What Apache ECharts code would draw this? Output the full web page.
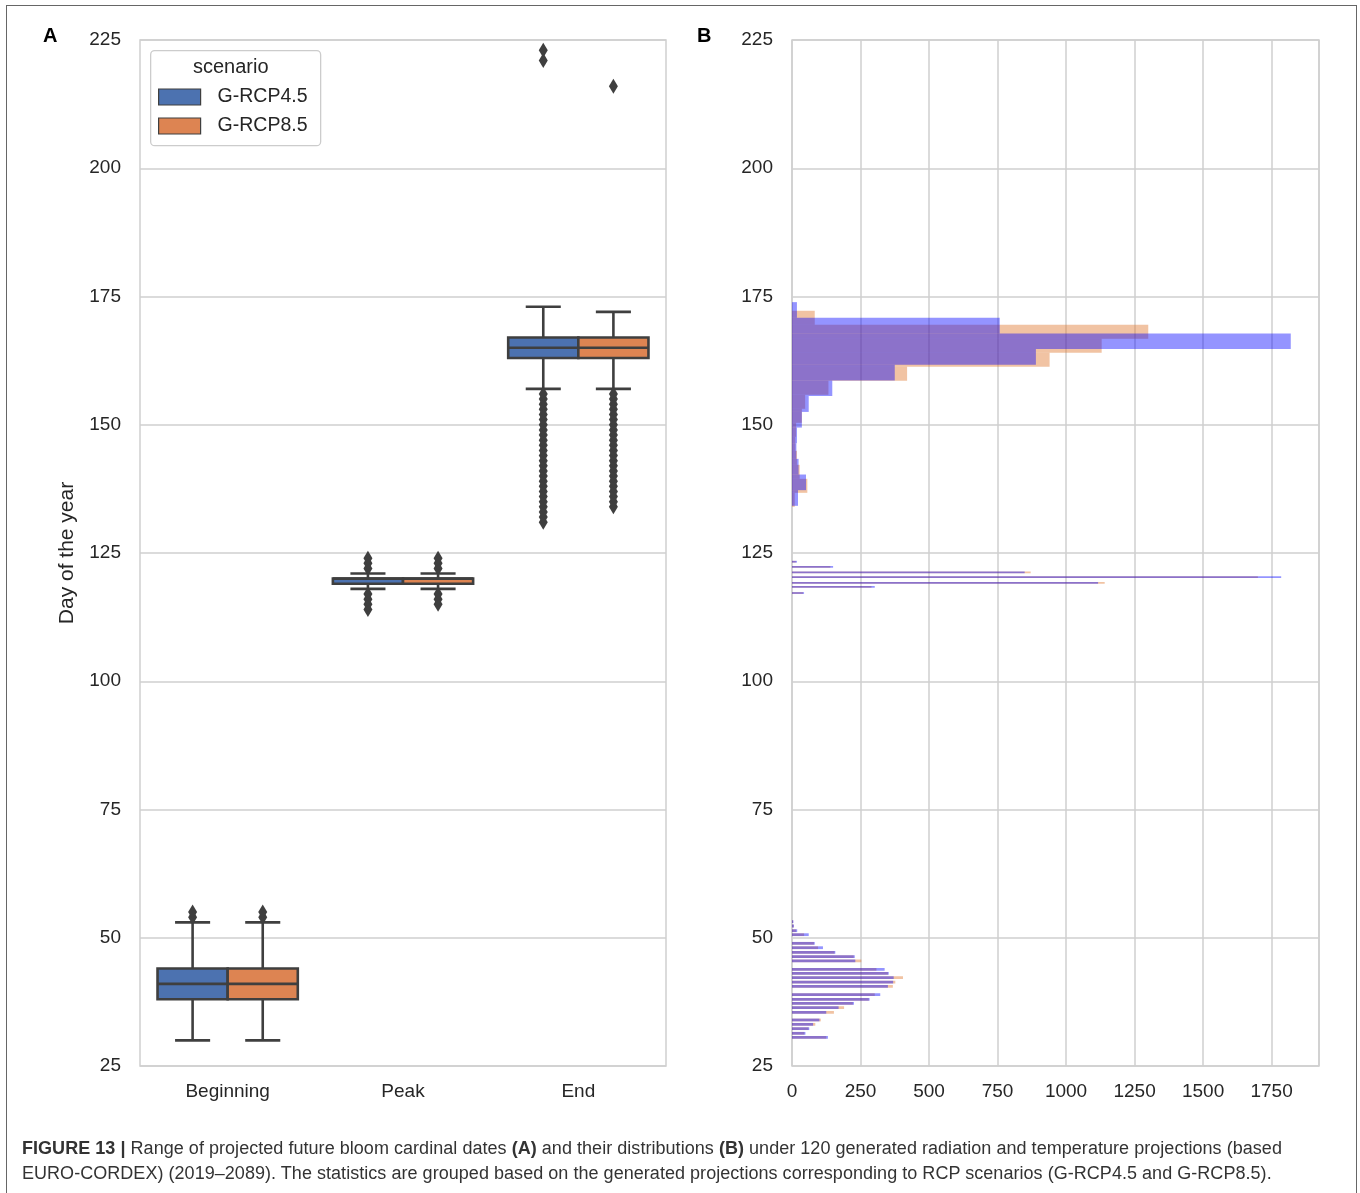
<!DOCTYPE html>
<html>
<head>
<meta charset="utf-8">
<script src="https://cdn.jsdelivr.net/npm/echarts@6/dist/echarts.min.js"></script>
<style>
  body { margin: 0; background: #fff; }
  #wrap { position: relative; width: 1360px; height: 1193px; overflow: hidden; }
  #frame { position: absolute; left: 6px; top: 5px; width: 1349px; height: 1300px; border: 1.5px solid #666; }
  #chart { position: absolute; left: 0; top: 0; width: 1360px; height: 1193px; }
  #caption { position: absolute; left: 22px; top: 1136px; font-family: "Liberation Sans", Arial, sans-serif;
             font-size: 18px; line-height: 25px; color: #333; white-space: nowrap; letter-spacing: 0.04px; }
</style>
</head>
<body>
<div id="wrap">
  <div id="frame"></div>
  <div id="chart"></div>
  <div id="caption"><b>FIGURE 13 |</b> Range of projected future bloom cardinal dates <b>(A)</b> and their distributions <b>(B)</b> under 120 generated radiation and temperature projections (based<br>EURO-CORDEX) (2019–2089). The statistics are grouped based on the generated projections corresponding to RCP scenarios (G-RCP4.5 and G-RCP8.5).</div>
</div>
<script>
// panel A: box statistics [low whisker, q1, median, q3, high whisker]
var stages = ['Beginning', 'Peak', 'End'];
var box45 = [[30, 38, 41, 44, 53], [118, 119, 120, 120, 121], [157, 163, 165, 167, 173]];
var box85 = [[30, 38, 41, 44, 53], [118, 119, 120, 120, 121], [157, 163, 165, 167, 172]];
var out45 = [
  [54, 55],
  [114, 115, 116, 117, 122, 123, 124],
  [131, 132, 133, 134, 135, 136, 137, 138, 139, 140, 141, 142, 143, 144, 145, 146, 147, 148, 149, 150, 151, 152, 153, 154, 155, 156, 221, 223]
];
var out85 = [
  [54, 55],
  [115, 116, 117, 122, 123, 124],
  [134, 135, 136, 137, 138, 139, 140, 141, 142, 143, 144, 145, 146, 147, 148, 149, 150, 151, 152, 153, 154, 155, 156, 216]
];

// panel B: histogram bins [low edge, high edge]
var beginEdges = [
  [52.86, 53.40], [52.02, 52.56], [51.11, 51.65], [50.33, 50.87], [48.64, 49.18], [47.79, 48.33],
  [46.89, 47.43], [46.04, 46.58], [45.20, 45.74], [43.57, 44.11], [42.79, 43.33], [41.95, 42.49],
  [41.10, 41.64], [40.26, 40.80], [38.63, 39.17], [37.73, 38.27], [36.95, 37.49], [36.10, 36.64],
  [35.19, 35.73], [33.70, 34.24], [32.85, 33.39], [32.01, 32.55], [31.10, 31.64], [30.32, 30.86]
];
var begin45 = [5, 7, 19, 61, 83, 113, 158, 229, 231, 338, 353, 371, 369, 350, 322, 283, 226, 170, 125, 100, 77, 63, 49, 131];
var begin85 = [4, 6, 15, 44, 80, 95, 155, 225, 253, 308, 350, 405, 377, 368, 302, 280, 222, 190, 153, 105, 85, 60, 45, 125];

var peakEdges = [[123.13, 123.47], [122.13, 122.47], [121.03, 121.37], [120.13, 120.47], [119.03, 119.37], [118.23, 118.57], [117.03, 117.37]];
var peak45 = [18, 150, 849, 1785, 1117, 302, 44];
var peak85 = [14, 140, 871, 1700, 1141, 290, 40];

var end45Edges = [
  [134.2, 137.25], [137.25, 140.3], [140.3, 143.35], [143.35, 146.4], [146.4, 149.45], [149.45, 152.5],
  [152.5, 155.6], [155.6, 158.65], [158.65, 161.7], [161.7, 164.75], [164.75, 167.8], [167.8, 170.85], [170.85, 173.9]
];
var end45 = [22, 51, 24, 16, 18, 36, 61, 147, 375, 890, 1820, 758, 18];
var end85Edges = [
  [134.0, 136.73], [136.73, 139.46], [139.46, 142.19], [142.19, 144.92], [144.92, 147.65], [147.65, 150.38], [150.38, 153.11],
  [153.11, 155.84], [155.84, 158.57], [158.57, 161.3], [161.3, 164.03], [164.03, 166.76], [166.76, 169.49], [169.49, 172.22]
];
var end85 = [10, 56, 28, 18, 12, 15, 36, 48, 133, 420, 940, 1130, 1300, 83];

var dayTicks = [25, 50, 75, 100, 125, 150, 175, 200, 225];
var countTicks = [0, 250, 500, 750, 1000, 1250, 1500, 1750];

var BLUE = '#4c72b0', ORANGE = '#dd8452', EDGE = '#3f3f3f';
var TXT = '#262626', SPINE = '#cfcfcf';

function boxData(stats) {
  return stats.map(function (s, i) { return [i].concat(s); });
}
function outData(lists, dodge) {
  var res = [];
  lists.forEach(function (vals, i) {
    vals.forEach(function (v) { res.push([i + dodge, v]); });
  });
  return res;
}
function histData(edgeLists, countLists) {
  var res = [];
  edgeLists.forEach(function (edges, k) {
    edges.forEach(function (e, i) { res.push([e[0], e[1], countLists[k][i]]); });
  });
  return res;
}

function boxRender(dodge, color) {
  return function (params, api) {
    var c = api.value(0) + dodge;
    var w = api.size([0.4, 0])[0];
    var half = w / 2, capHalf = w / 4;
    var x = api.coord([c, api.value(3)])[0];
    var ylo = api.coord([c, api.value(1)])[1];
    var yq1 = api.coord([c, api.value(2)])[1];
    var ymed = api.coord([c, api.value(3)])[1];
    var yq3 = api.coord([c, api.value(4)])[1];
    var yhi = api.coord([c, api.value(5)])[1];
    var ln = { stroke: EDGE, lineWidth: 2.6 };
    return {
      type: 'group',
      children: [
        { type: 'line', shape: { x1: x, y1: yq3, x2: x, y2: yhi }, style: ln },
        { type: 'line', shape: { x1: x, y1: yq1, x2: x, y2: ylo }, style: ln },
        { type: 'line', shape: { x1: x - capHalf, y1: yhi, x2: x + capHalf, y2: yhi }, style: ln },
        { type: 'line', shape: { x1: x - capHalf, y1: ylo, x2: x + capHalf, y2: ylo }, style: ln },
        { type: 'rect', shape: { x: x - half, y: yq3, width: w, height: yq1 - yq3 },
          style: { fill: color, stroke: EDGE, lineWidth: 2.6 } },
        { type: 'line', shape: { x1: x - half, y1: ymed, x2: x + half, y2: ymed }, style: ln }
      ]
    };
  };
}

function histRender(params, api) {
  var p0 = api.coord([0, api.value(1)]);
  var p1 = api.coord([api.value(2), api.value(0)]);
  return {
    type: 'rect',
    shape: { x: p0[0], y: p0[1], width: p1[0] - p0[0], height: p1[1] - p0[1] },
    style: api.style()
  };
}

var chart = echarts.init(document.getElementById('chart'));
var labelStyle = { color: TXT, fontSize: 19, fontFamily: 'Liberation Sans, Arial, sans-serif' };

chart.setOption({
  animation: false,
  textStyle: { fontFamily: 'Liberation Sans, Arial, sans-serif' },
  grid: [
    { left: 140, top: 40, width: 526, height: 1026, show: true, borderColor: SPINE, borderWidth: 1.5 },
    { left: 792, top: 40, width: 527, height: 1026, show: true, borderColor: SPINE, borderWidth: 1.5 }
  ],
  legend: {
    data: ['G-RCP4.5', 'G-RCP8.5'],
    orient: 'vertical',
    left: 158, top: 87,
    padding: 0,
    itemGap: 9,
    itemWidth: 42, itemHeight: 16,
    icon: 'rect',
    itemStyle: { borderColor: EDGE, borderWidth: 1.2 },
    textStyle: { color: TXT, fontSize: 19.5, padding: [0, 0, 0, 12] },
    selectedMode: false
  },
  graphic: [
    { type: 'rect', left: 150, top: 50, z: 1, shape: { width: 170, height: 95, r: 4 },
      style: { fill: '#fff', stroke: '#cccccc', lineWidth: 1.3 } },
    { type: 'text', left: 193, top: 57, z: 2, style: { text: 'scenario', fontSize: 20, fill: TXT } },
    { type: 'text', left: 43, top: 26, style: { text: 'A', fontSize: 20, fontWeight: 'bold', fill: '#000' } },
    { type: 'text', left: 697, top: 26, style: { text: 'B', fontSize: 20, fontWeight: 'bold', fill: '#000' } }
  ],
  xAxis: [
    { type: 'category', gridIndex: 0, data: stages,
      axisLine: { show: false }, axisTick: { show: false },
      axisLabel: Object.assign({ margin: 16 }, labelStyle), splitLine: { show: false } },
    { type: 'value', gridIndex: 0, min: -0.5, max: 2.5, show: false },
    { type: 'value', gridIndex: 1, min: countTicks[0], max: 1923, interval: 250,
      axisLine: { show: false }, axisTick: { show: false },
      axisLabel: Object.assign({ margin: 16, showMaxLabel: false,
        formatter: function (v) { return String(v); } }, labelStyle),
      splitLine: { show: true, lineStyle: { color: SPINE, width: 1.5 } } }
  ],
  yAxis: [
    { type: 'value', gridIndex: 0, min: dayTicks[0], max: dayTicks[dayTicks.length - 1], interval: 25,
      name: 'Day of the year', nameLocation: 'middle', nameGap: 62,
      nameTextStyle: { color: TXT, fontSize: 21 },
      axisLine: { show: false }, axisTick: { show: false },
      axisLabel: Object.assign({ margin: 19 }, labelStyle),
      splitLine: { lineStyle: { color: SPINE, width: 1.5 } } },
    { type: 'value', gridIndex: 1, min: dayTicks[0], max: dayTicks[dayTicks.length - 1], interval: 25,
      axisLine: { show: false }, axisTick: { show: false },
      axisLabel: Object.assign({ margin: 19 }, labelStyle),
      splitLine: { lineStyle: { color: SPINE, width: 1.5 } } }
  ],
  series: [
    { name: 'G-RCP4.5', type: 'custom', xAxisIndex: 1, yAxisIndex: 0,
      itemStyle: { color: BLUE }, encode: { x: 0, y: [1, 2, 3, 4, 5] },
      renderItem: boxRender(-0.2, BLUE), data: boxData(box45), z: 3 },
    { name: 'G-RCP8.5', type: 'custom', xAxisIndex: 1, yAxisIndex: 0,
      itemStyle: { color: ORANGE }, encode: { x: 0, y: [1, 2, 3, 4, 5] },
      renderItem: boxRender(0.2, ORANGE), data: boxData(box85), z: 3 },
    { name: 'outliers 4.5', type: 'scatter', xAxisIndex: 1, yAxisIndex: 0,
      symbol: 'diamond', symbolSize: [9, 15], itemStyle: { color: EDGE, opacity: 1 },
      data: outData(out45, -0.2), z: 4 },
    { name: 'outliers 8.5', type: 'scatter', xAxisIndex: 1, yAxisIndex: 0,
      symbol: 'diamond', symbolSize: [9, 15], itemStyle: { color: EDGE, opacity: 1 },
      data: outData(out85, 0.2), z: 4 },
    { name: 'hist 8.5', type: 'custom', xAxisIndex: 2, yAxisIndex: 1,
      itemStyle: { color: 'rgba(224,122,50,0.45)' }, encode: { x: 2, y: [0, 1] },
      renderItem: histRender, clip: true,
      data: histData([beginEdges, peakEdges, end85Edges], [begin85, peak85, end85]), z: 3 },
    { name: 'hist 4.5', type: 'custom', xAxisIndex: 2, yAxisIndex: 1,
      itemStyle: { color: 'rgba(0,0,255,0.42)' }, encode: { x: 2, y: [0, 1] },
      renderItem: histRender, clip: true,
      data: histData([beginEdges, peakEdges, end45Edges], [begin45, peak45, end45]), z: 4 }
  ]
});
</script>
</body>
</html>
